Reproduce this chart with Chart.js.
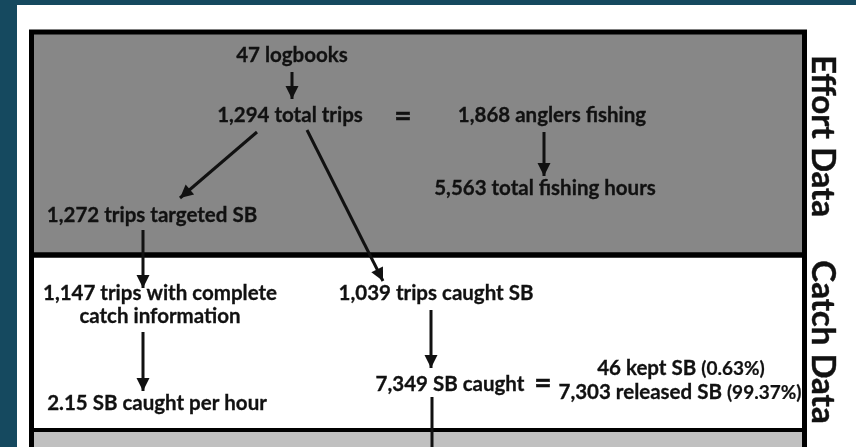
<!DOCTYPE html>
<html>
<head>
<meta charset="utf-8">
<script src="https://cdn.jsdelivr.net/npm/chart.js@4.4.1/dist/chart.umd.min.js"></script>
<style>
  html, body { margin: 0; padding: 0; background: #15495f; }
  canvas { display: block; }
</style>
</head>
<body>
<canvas id="flowChart" width="856" height="447"></canvas>
<script>
// Node labels of the flow diagram (diagram units, y grows downward)
const nodeLabels = ['47 logbooks', '1,294 total trips', '1,868 anglers fishing', '5,563 total fishing hours',
  '1,272 trips targeted SB', '1,147 trips with complete', 'catch information', '1,039 trips caught SB',
  '7,349 SB caught', '2.15 SB caught per hour'];
const nodeX = [292, 290, 552, 545, 152, 160, 160, 436, 450, 157];
const nodeY = [62, 122, 122, 195, 222, 300, 323, 300, 391, 410];

// kept / released split, with the share in brackets
const splitLabels = ['46 kept SB', '7,303 released SB'];
const splitShare = ['(0.63%)', '(99.37%)'];
const splitX = [681, 680];
const splitY = [375, 399];

// "=" signs
const equalsX = [403, 543];
const equalsY = [126, 393];

// arrows: start and end points
const arrowFromX = [292, 257, 307, 544, 143, 143, 431, 432];
const arrowFromY = [72, 132, 130, 132, 230, 332, 310, 397];
const arrowToX = [292, 180, 383, 544, 143, 143, 431, 432];
const arrowToY = [99, 198, 281, 176, 288, 391, 368, 452];
const arrowHead = [true, true, true, true, true, true, true, false];

// sections of the box
const sectionNames = ['Effort Data', 'Catch Data'];
const sectionTop = [32, 255];
const sectionBottom = [255, 430];
const sectionLabelY = [136, 342];
const boxLeft = 31.5, boxRight = 804.5;

const FONT = 'Lato, "Open Sans", sans-serif';
const TEXT = 'bold 20.5px ' + FONT;

const arrowSets = arrowFromX.map((x, i) => ({
  type: 'line',
  showLine: true,
  data: [{ x: x, y: arrowFromY[i] }, { x: arrowToX[i], y: arrowToY[i] }],
  borderColor: '#111',
  borderWidth: 3,
  pointRadius: 0,
  head: arrowHead[i]
}));

const nodeSet = {
  type: 'scatter',
  data: nodeX.map((x, i) => ({ x: x, y: nodeY[i] })),
  pointRadius: 0
};

// slightly heavier text, closer to the original's bold face
function heavyText(c, t, x, y, w) {
  c.lineWidth = w;
  c.strokeText(t, x, y);
  c.fillText(t, x, y);
}

// background panels and frame
const backdrop = {
  id: 'backdrop',
  beforeDatasetsDraw(chart) {
    const c = chart.ctx, sx = chart.scales.x, sy = chart.scales.y;
    c.save();
    c.fillStyle = '#15495f';
    c.fillRect(0, 0, chart.width, chart.height);
    c.fillStyle = '#ffffff';
    c.fillRect(sx.getPixelForValue(17), sy.getPixelForValue(5), chart.width, chart.height);

    const l = sx.getPixelForValue(boxLeft), r = sx.getPixelForValue(boxRight);
    const fills = ['#878787', '#ffffff'];
    sectionTop.forEach((t, i) => {
      const top = sy.getPixelForValue(t), bot = sy.getPixelForValue(sectionBottom[i]);
      c.fillStyle = fills[i];
      c.fillRect(l, top, r - l, bot - top);
    });
    const lastBot = sy.getPixelForValue(sectionBottom[sectionBottom.length - 1]);
    c.fillStyle = '#c0c0c0';
    c.fillRect(l, lastBot, r - l, chart.height - lastBot);

    // frame lines
    c.strokeStyle = '#000';
    c.lineWidth = 5;
    c.beginPath();
    c.moveTo(l, chart.height + 5);
    c.lineTo(l, sy.getPixelForValue(sectionTop[0]));
    c.lineTo(r, sy.getPixelForValue(sectionTop[0]));
    c.lineTo(r, chart.height + 5);
    c.stroke();
    sectionBottom.forEach((b, i) => {
      c.lineWidth = i === 0 ? 5.5 : 4;
      c.beginPath();
      c.moveTo(l, sy.getPixelForValue(b));
      c.lineTo(r, sy.getPixelForValue(b));
      c.stroke();
    });

    // rotated section names
    c.fillStyle = '#111';
    c.strokeStyle = '#111';
    c.font = 'bold 33px ' + FONT;
    c.textAlign = 'center';
    c.textBaseline = 'middle';
    sectionNames.forEach((name, i) => {
      c.save();
      c.translate(sx.getPixelForValue(823), sy.getPixelForValue(sectionLabelY[i]));
      c.rotate(Math.PI / 2);
      heavyText(c, name, 0, 0, 0.4);
      c.restore();
    });
    c.restore();
  }
};

// arrowheads and text
const annotate = {
  id: 'annotate',
  afterDatasetsDraw(chart) {
    const c = chart.ctx, sx = chart.scales.x, sy = chart.scales.y;
    c.save();
    c.fillStyle = '#111';
    c.strokeStyle = '#111';
    chart.data.datasets.forEach((ds, i) => {
      if (!ds.head) return;
      const pts = chart.getDatasetMeta(i).data;
      const a = pts[0], b = pts[1];
      const ang = Math.atan2(b.y - a.y, b.x - a.x);
      const len = 13, half = 6.5;
      c.save();
      c.translate(b.x, b.y);
      c.rotate(ang);
      c.beginPath();
      c.moveTo(0, 0);
      c.lineTo(-len, -half);
      c.lineTo(-len, half);
      c.closePath();
      c.fill();
      c.restore();
    });

    c.textBaseline = 'alphabetic';
    c.textAlign = 'center';
    c.font = TEXT;
    const meta = chart.getDatasetMeta(0).data;
    nodeLabels.forEach((t, i) => heavyText(c, t, meta[i].x, meta[i].y, 0.3));

    // split lines: bold count + slightly lighter share
    const shareFont = 'bold 19px ' + FONT;
    splitLabels.forEach((t, i) => {
      c.font = TEXT;
      const w1 = c.measureText(t + ' ').width;
      c.font = shareFont;
      const w2 = c.measureText(splitShare[i]).width;
      const x0 = sx.getPixelForValue(splitX[i]) - (w1 + w2) / 2;
      const y = sy.getPixelForValue(splitY[i]);
      c.textAlign = 'left';
      c.font = TEXT;
      heavyText(c, t + ' ', x0, y, 0.3);
      c.font = shareFont;
      heavyText(c, splitShare[i], x0 + w1, y, 0.2);
    });

    c.textAlign = 'center';
    c.font = 'bold 30px ' + FONT;
    equalsX.forEach((x, i) => heavyText(c, '=', sx.getPixelForValue(x), sy.getPixelForValue(equalsY[i]), 0.5));
    c.restore();
  }
};

new Chart(document.getElementById('flowChart').getContext('2d'), {
  type: 'scatter',
  data: { datasets: [nodeSet].concat(arrowSets) },
  options: {
    responsive: false,
    animation: false,
    devicePixelRatio: 1,
    events: [],
    layout: { padding: 0 },
    scales: {
      x: { type: 'linear', display: false, min: 0, max: 856 },
      y: { type: 'linear', display: false, min: 0, max: 447, reverse: true }
    },
    plugins: { legend: { display: false }, tooltip: { enabled: false } }
  },
  plugins: [backdrop, annotate]
});
</script>
</body>
</html>
